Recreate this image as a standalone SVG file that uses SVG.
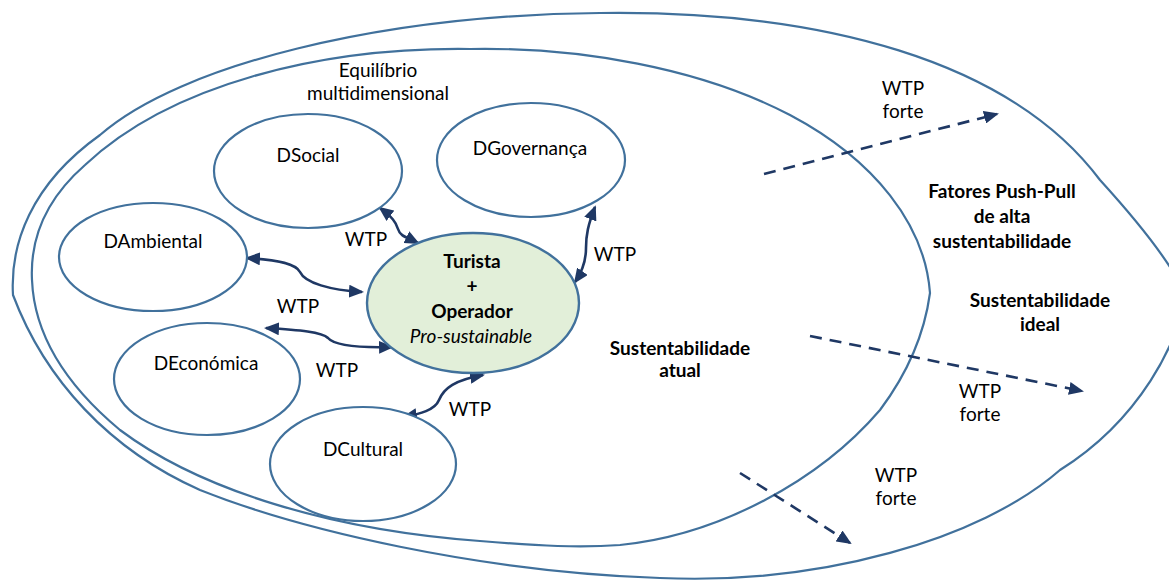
<svg xmlns="http://www.w3.org/2000/svg" width="1169" height="582" viewBox="0 0 1169 582">
  <style>
    .region { fill: none; stroke: #41719c; stroke-width: 2.2; }
    .dim { fill: #ffffff; stroke: #41719c; stroke-width: 2.2; }
    .core { fill: #e2efd9; stroke: #41719c; stroke-width: 2.4; }
    .link { fill: none; stroke: #1f3864; stroke-width: 2.6; marker-start: url(#head); marker-end: url(#head); }
    .push { fill: none; stroke: #1f3864; stroke-width: 2.6; stroke-dasharray: 12 8; marker-end: url(#head); }
    text { font-family: Lato, "Liberation Sans", sans-serif; font-size: 19px; fill: #000000; text-anchor: middle; }
    .b { font-weight: bold; }
    .i { font-style: italic; }
  </style>
  <defs>
    <marker id="head" viewBox="0 0 15 13" refX="13" refY="6.5" markerWidth="15" markerHeight="13" markerUnits="userSpaceOnUse" orient="auto-start-reverse">
      <path d="M0,0 L15,6.5 L0,13 Z" fill="#1f3864"/>
    </marker>
  </defs>

  <!-- sustainability regions -->
  <g id="regions">
    <path id="ideal-region" class="region" d="M 13,295 C 10,245 30,185 100,135 C 180,65 380,15 600,13 C 820,10 1010,60 1100,180 C 1150,235 1175,270 1185,295 C 1180,340 1140,420 1060,470 C 980,540 820,585 660,578 C 480,572 300,530 200,490 C 110,450 45,380 13,295 Z"/>
    <path id="current-region" class="region" d="M 930,293 C 925,225 875,160 790,115 C 700,68 580,47 470,49 C 320,47 170,85 85,165 C 45,200 30,240 32,280 C 34,330 60,380 120,430 C 200,490 330,530 480,541 C 540,546 580,548 620,545 C 720,535 820,480 880,410 C 910,370 925,330 930,293 Z"/>
  </g>

  <!-- region labels -->
  <g id="labels">
    <text x="378" y="77">Equilíbrio</text>
    <text x="378" y="100">multidimensional</text>
    <text class="b" x="1002" y="198">Fatores Push-Pull</text>
    <text class="b" x="1002" y="223">de alta</text>
    <text class="b" x="1002" y="248">sustentabilidade</text>
    <text class="b" x="1040" y="307">Sustentabilidade</text>
    <text class="b" x="1040" y="331">ideal</text>
    <text class="b" x="680" y="355">Sustentabilidade</text>
    <text class="b" x="680" y="377">atual</text>
  </g>

  <!-- connectors -->
  <g id="connectors">
    <path class="link" d="M 380,208 C 392,217 396,222 398,229 C 400,236 406,237 418,243"/>
    <path class="link" d="M 247,258 C 280,260 296,264 300,272 C 305,283 330,290 362,292"/>
    <path class="link" d="M 266,328 C 300,330 322,332 328,338 C 334,345 355,348 392,347"/>
    <path class="link" d="M 404,417 C 420,414 435,410 439,400 C 444,388 455,380 483,375"/>
    <path class="link" d="M 595,207 C 588,225 586,235 586,248 C 586,262 582,272 575,282"/>
    <path class="push" d="M 764,174 L 997,114"/>
    <path class="push" d="M 810,336 L 1082,391"/>
    <path class="push" d="M 740,473 L 850,543"/>
    <text x="366" y="246">WTP</text>
    <text x="298" y="313">WTP</text>
    <text x="337" y="377">WTP</text>
    <text x="470" y="416">WTP</text>
    <text x="615" y="261">WTP</text>
    <text x="903" y="95">WTP</text>
    <text x="903" y="118">forte</text>
    <text x="980" y="398">WTP</text>
    <text x="980" y="421">forte</text>
    <text x="896" y="482">WTP</text>
    <text x="896" y="505">forte</text>
  </g>

  <!-- dimension nodes -->
  <g id="dsocial">
    <ellipse class="dim" cx="308" cy="171" rx="94" ry="57"/>
    <text x="308" y="162">DSocial</text>
  </g>
  <g id="dgovernanca">
    <ellipse class="dim" cx="531" cy="160" rx="94" ry="57"/>
    <text x="530" y="155">DGovernança</text>
  </g>
  <g id="dambiental">
    <ellipse class="dim" cx="153" cy="257" rx="94" ry="54"/>
    <text x="153" y="248">DAmbiental</text>
  </g>
  <g id="deconomica">
    <ellipse class="dim" cx="207" cy="379" rx="93" ry="56"/>
    <text x="206" y="370">DEconómica</text>
  </g>
  <g id="dcultural">
    <ellipse class="dim" cx="363" cy="464" rx="93" ry="57"/>
    <text x="363" y="456">DCultural</text>
  </g>

  <!-- central node -->
  <g id="turista-operador">
    <ellipse class="core" cx="473" cy="303" rx="106" ry="70"/>
    <text class="b" x="472" y="268">Turista</text>
    <text class="b" x="472" y="293">+</text>
    <text class="b" x="472" y="318">Operador</text>
    <text class="i" x="471" y="343">Pro-sustainable</text>
  </g>
</svg>
